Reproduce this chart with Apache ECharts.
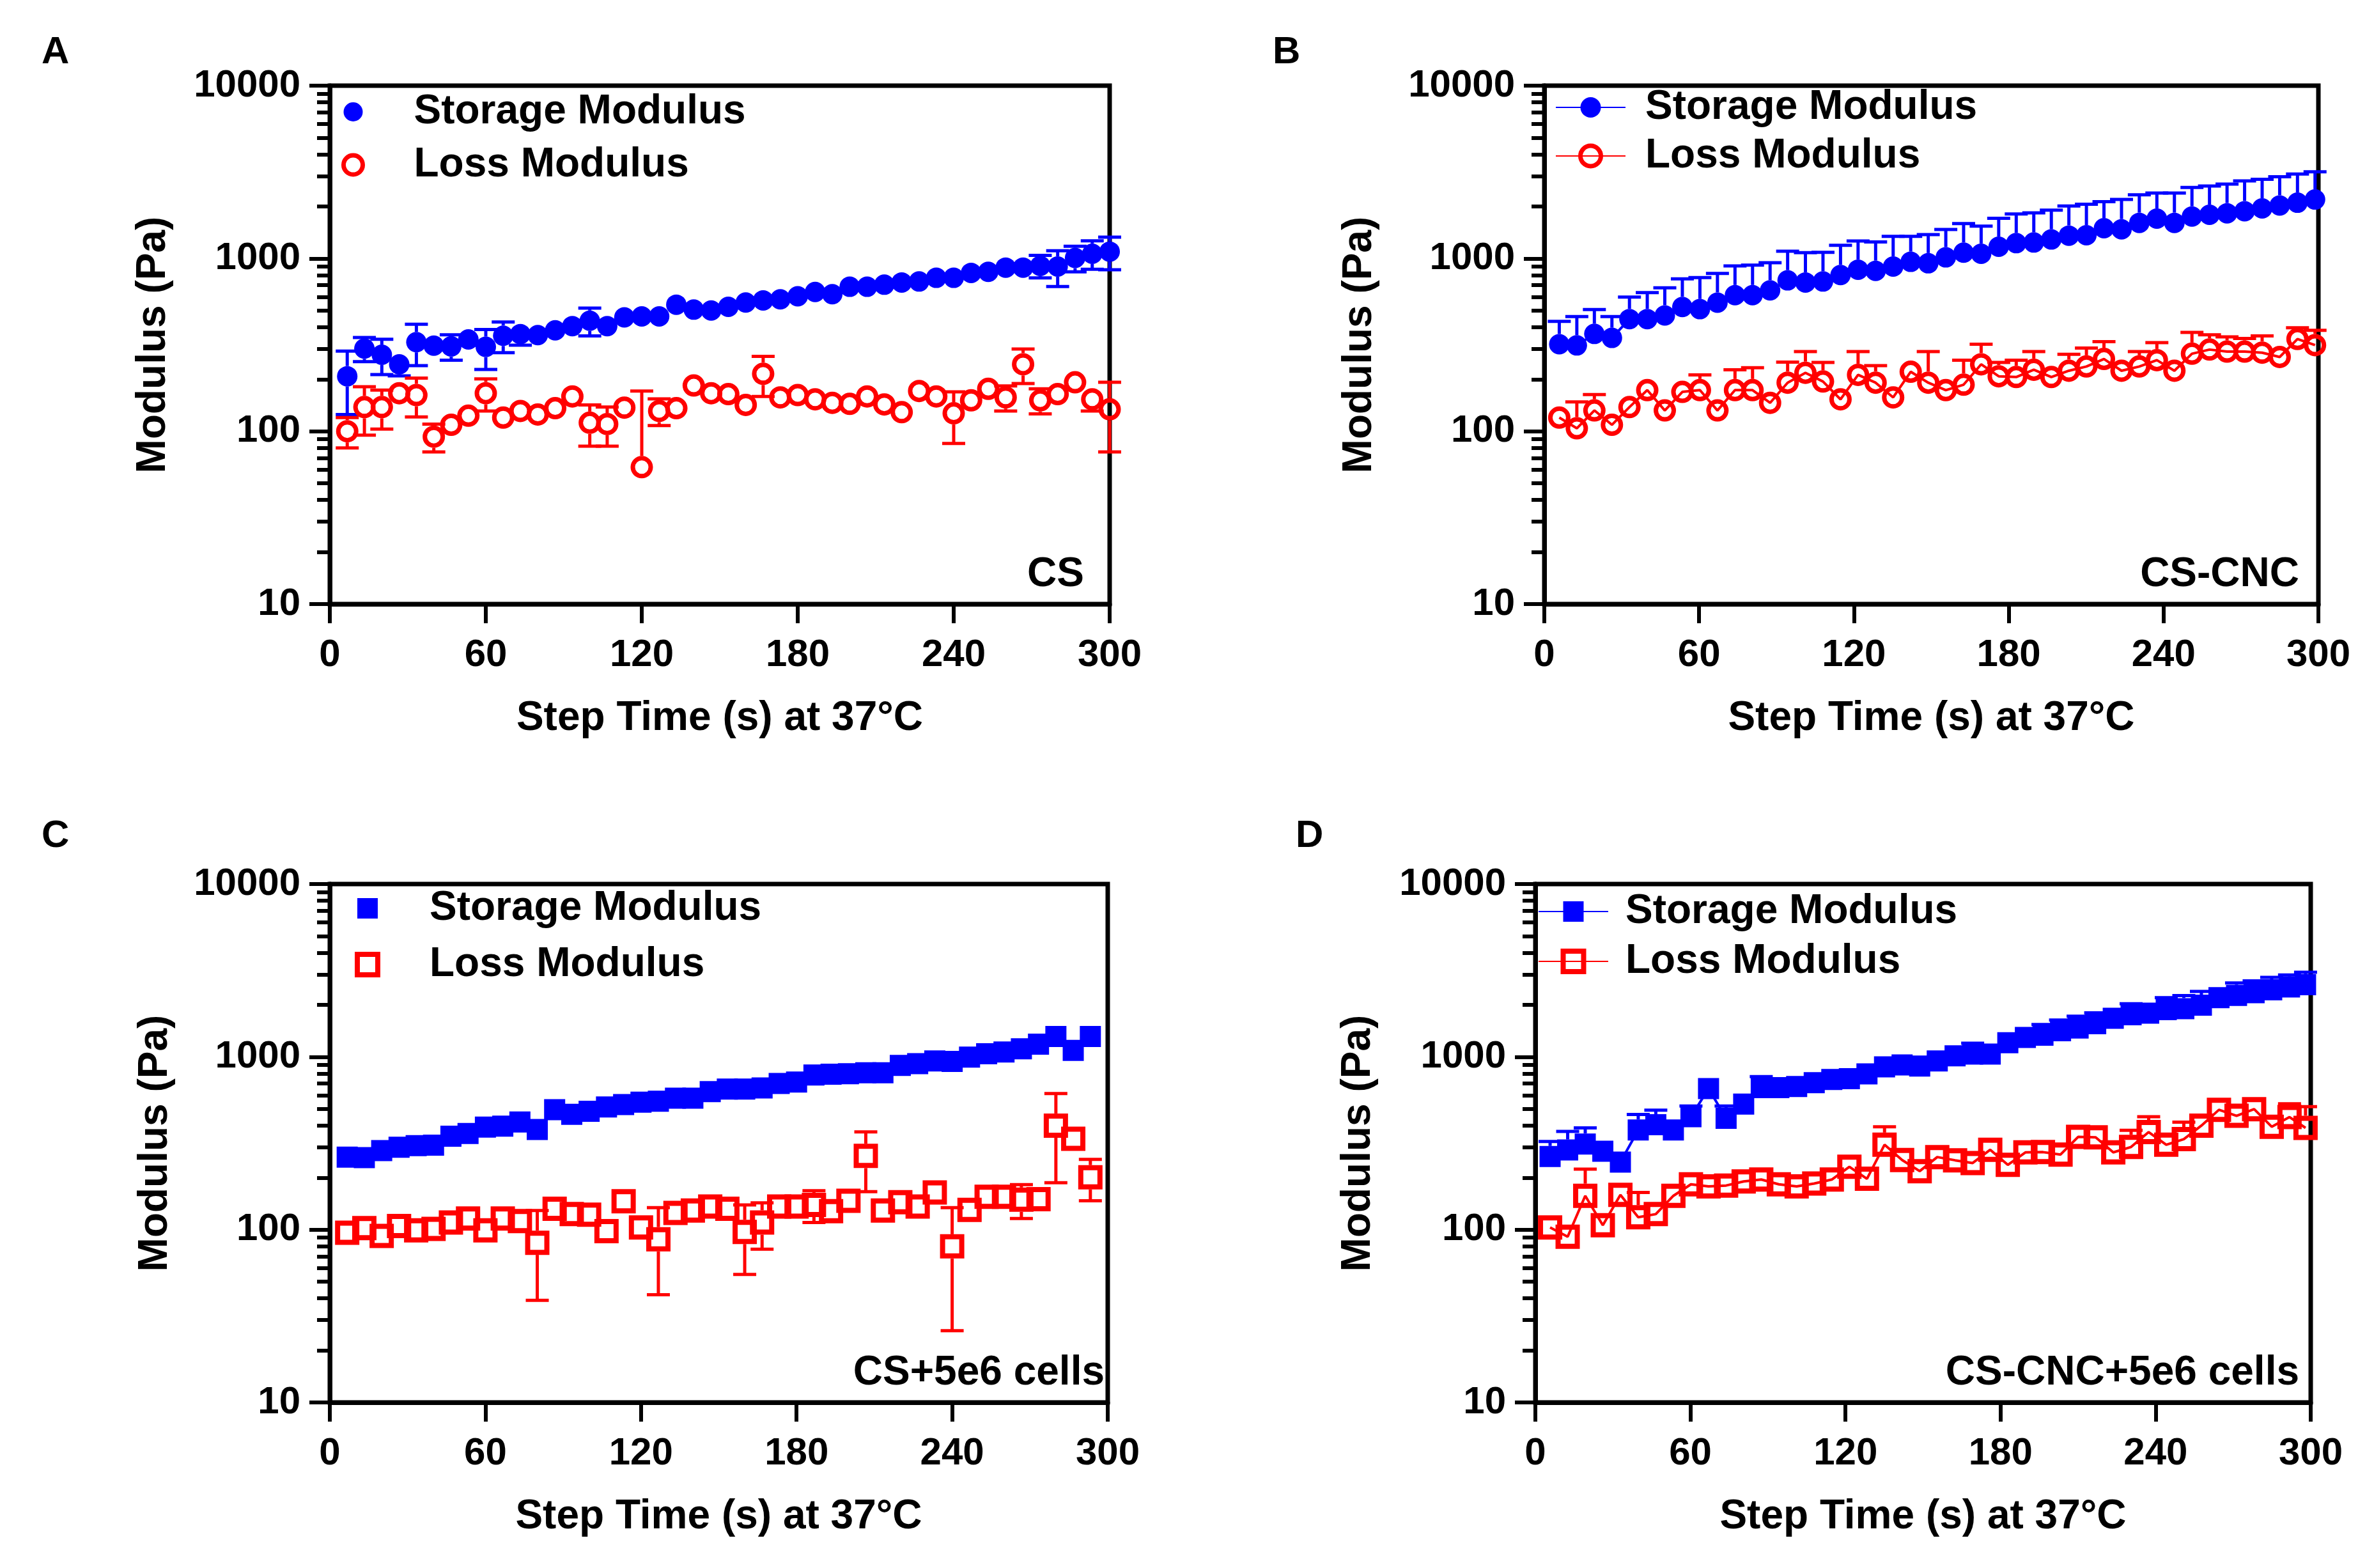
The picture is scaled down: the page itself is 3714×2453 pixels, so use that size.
<!DOCTYPE html>
<html><head><meta charset="utf-8">
<script src="https://cdn.jsdelivr.net/npm/echarts@6/dist/echarts.min.js"></script>
<style>html,body{margin:0;padding:0;background:#fff}#c{width:3714px;height:2453px}</style>
</head><body><div id="c"></div>
<script>
const xTicks = [0, 60, 120, 180, 240, 300];
const yTicks = [10, 100, 1000, 10000];
const yMinorTicks = [20,30,40,50,60,70,80,90,200,300,400,500,600,700,800,900,2000,3000,4000,5000,6000,7000,8000,9000];
const panelLabels = ['A', 'B', 'C', 'D'];
const sampleNames = ['CS', 'CS-CNC', 'CS+5e6 cells', 'CS-CNC+5e6 cells'];
const seriesNames = ['Storage Modulus', 'Loss Modulus'];
const xTitle = 'Step Time (s) at 37°C';
const yTitle = 'Modulus (Pa)';

const timeA = [6.7,13.3,20,26.7,33.3,40,46.7,53.3,60,66.7,73.3,80,86.7,93.3,100,106.7,113.3,120,126.7,133.3,140,146.7,153.3,160,166.7,173.3,180,186.7,193.3,200,206.7,213.3,220,226.7,233.3,240,246.7,253.3,260,266.7,273.3,280,286.7,293.3,300];
const timeB = [5.8,12.6,19.4,26.2,33.0,39.9,46.7,53.5,60.3,67.1,73.9,80.7,87.5,94.3,101.2,108.0,114.8,121.6,128.4,135.2,142.0,148.8,155.6,162.5,169.3,176.1,182.9,189.7,196.5,203.3,210.1,216.9,223.7,230.6,237.4,244.2,251.0,257.8,264.6,271.4,278.2,285.0,291.9,298.7];
const timeC = [6.7,13.3,20,26.7,33.3,40,46.7,53.3,60,66.7,73.3,80,86.7,93.3,100,106.7,113.3,120,126.7,133.3,140,146.7,153.3,160,166.7,173.3,180,186.7,193.3,200,206.7,213.3,220,226.7,233.3,240,246.7,253.3,260,266.7,273.3,280,286.7,293.3];
const timeD = [5.7,12.5,19.3,26.1,32.9,39.8,46.6,53.4,60.2,67.0,73.8,80.6,87.4,94.2,101.1,107.9,114.7,121.5,128.3,135.1,141.9,148.7,155.5,162.4,169.2,176.0,182.8,189.6,196.4,203.2,210.0,216.8,223.6,230.5,237.3,244.1,250.9,257.7,264.5,271.3,278.1,284.9,291.8,298.0];

const storageA = [208,301,277,244,328,313,310,340,308,357,365,360,384,406,436,406,456,462,462,540,506,500,525,556,572,580,604,640,621,686,686,705,726,736,773,773,825,837,885,885,906,898,1007,1065,1095];
const storageSdA = [83,48,64,35,88,0,52,0,80,72,50,45,45,0,80,0,0,0,0,0,0,0,0,0,0,0,0,0,0,0,0,0,0,0,0,0,0,0,30,40,135,210,170,200,234];
const lossA = [100,138,138,166,162,93,109,123,166,120,131,125,136,159,112,110,137,62,131,136,184,166,164,142,215,157,162,153,146,144,159,143,129,171,159,127,151,176,157,244,151,164,192,153,134];
const lossSdA = [20,43,35,0,41,17,0,0,35,0,0,0,0,0,30,28,0,109,23,0,25,0,0,0,56,0,0,0,0,0,0,0,0,0,0,42,0,0,26,55,25,12,0,22,58];

const storageB = [319,314,366,347,446,446,468,524,509,555,613,613,654,747,726,736,802,861,848,898,956,938,1015,1080,1065,1169,1227,1237,1288,1355,1362,1496,1475,1607,1700,1607,1749,1789,1826,1877,1948,2025,2102,2194];
const storageSdB = [113,147,140,114,152,188,208,238,266,265,293,303,291,355,354,350,390,401,397,445,387,436,455,512,474,540,582,599,617,659,699,637,719,728,689,782,829,835,866,931,923,946,981,977];
const lossB = [120,104,132,109,138,173,132,169,173,132,173,173,146,191,218,194,153,212,191,157,221,191,173,186,244,208,206,227,206,224,237,262,224,237,258,224,281,297,289,289,285,269,342,315];
const lossSdB = [10,44,31,0,0,24,0,0,39,0,54,60,0,60,71,56,0,77,49,0,0,98,0,72,75,42,52,62,0,55,66,68,0,52,68,0,92,65,63,55,71,0,55,69];

const storageC = [263,261,287,300,306,308,347,360,392,397,420,380,495,465,484,513,529,547,554,576,576,629,651,651,660,701,715,785,794,799,808,808,892,913,947,940,997,1041,1067,1114,1183,1311,1089,1311];
const storageSdC = [0,0,0,0,0,0,0,0,0,0,0,0,0,0,0,0,0,0,0,0,0,0,0,0,0,0,0,0,0,0,0,0,0,0,0,0,0,0,0,0,0,0,0,0];
const lossC = [96,102,92,105,99,101,110,116,99,116,112,84,132,123,122,98,146,103,88,125,129,136,132,97,110,136,136,139,128,147,267,129,144,136,164,80,130,155,155,149,150,400,336,201];
const lossSdC = [0,0,0,0,0,0,0,0,0,0,0,45,0,0,0,0,0,0,46,0,0,0,0,42,33,0,0,29,0,0,101,0,0,0,0,54,0,0,0,33,0,213,0,54];

const storageD = [265,289,313,284,246,377,405,377,450,655,441,533,664,663,674,709,740,748,796,875,897,884,947,1014,1038,1038,1207,1295,1333,1415,1468,1554,1673,1751,1791,1875,1901,1989,2202,2267,2352,2442,2535,2616];
const storageSdD = [59,81,75,0,0,87,86,0,69,0,78,78,104,0,0,0,0,0,0,0,0,0,0,0,162,0,0,0,204,217,250,242,0,280,0,325,360,400,0,410,400,440,445,470];
const lossD = [103,91,157,106,159,118,123,157,183,178,180,190,195,183,178,185,195,231,197,310,253,218,263,252,243,290,237,280,281,272,344,342,280,301,367,310,334,400,494,456,498,394,448,388];
const lossSdD = [0,0,67,0,0,46,0,0,0,0,0,0,0,0,0,0,0,0,0,84,0,0,0,0,0,0,0,0,0,30,0,0,0,75,83,0,85,0,0,0,0,0,87,127];

const F = 'Liberation Sans, Arial, Helvetica, sans-serif';
const BLUE = '#0000ff', RED = '#ff0000';

const panels = [
  {time: timeA, s: storageA, sSd: storageSdA, l: lossA, lSd: lossSdA, line: false, sym: 'circle', twoSided: true,
   grid: {left: 516, top: 134, width: 1220, height: 811}, yGap: 244,
   legend: {left: 534, top: 143, gap: 19, w: 30, h: 30, pad: 75}, letter: {left: 65, top: 52}, note: {right: 2018, top: 867}},
  {time: timeB, s: storageB, sSd: storageSdB, l: lossB, lSd: lossSdB, line: true, sym: 'circle', twoSided: false,
   grid: {left: 2416, top: 134, width: 1211, height: 811}, yGap: 257,
   legend: {left: 2433, top: 136, gap: 12, w: 109, h: 40, pad: 26}, letter: {left: 1991, top: 52}, note: {right: 117, top: 867}},
  {time: timeC, s: storageC, sSd: storageSdC, l: lossC, lSd: lossSdC, line: false, sym: 'rect', twoSided: true,
   grid: {left: 516, top: 1383, width: 1217, height: 811}, yGap: 241,
   legend: {left: 555, top: 1389, gap: 24, w: 32, h: 32, pad: 76}, letter: {left: 65, top: 1278}, note: {right: 1986, top: 2116}},
  {time: timeD, s: storageD, sSd: storageSdD, l: lossD, lSd: lossSdD, line: true, sym: 'rect', twoSided: false,
   grid: {left: 2402, top: 1383, width: 1213, height: 811}, yGap: 245,
   legend: {left: 2406, top: 1394, gap: 14, w: 109, h: 40, pad: 22}, letter: {left: 2027, top: 1278}, note: {right: 117, top: 2116}}
];

function errorSeries(name, g, times, vals, sds, color, twoSided, r, capW) {
  return {
    type: 'custom', name: name, xAxisIndex: g, yAxisIndex: 2 * g, z: 1, silent: true,
    encode: {x: 0, y: 1},
    data: times.map((t, i) => [t, vals[i], sds[i]]),
    renderItem: function (params, api) {
      const t = api.value(0), v = api.value(1), sd = api.value(2);
      if (!(sd > 0)) return null;
      const c = api.coord([t, v]);
      const st = {stroke: color, lineWidth: 5};
      const kids = [];
      const up = api.coord([t, v + sd]);
      if (c[1] - up[1] > r) {
        kids.push({type: 'line', shape: {x1: c[0], y1: c[1] - r, x2: c[0], y2: up[1]}, style: st});
        kids.push({type: 'line', shape: {x1: c[0] - capW / 2, y1: up[1], x2: c[0] + capW / 2, y2: up[1]}, style: st});
      }
      if (twoSided && v - sd > 0) {
        const dn = api.coord([t, v - sd]);
        if (dn[1] - c[1] > r) {
          kids.push({type: 'line', shape: {x1: c[0], y1: c[1] + r, x2: c[0], y2: dn[1]}, style: st});
          kids.push({type: 'line', shape: {x1: c[0] - capW / 2, y1: dn[1], x2: c[0] + capW / 2, y2: dn[1]}, style: st});
        }
      }
      return {type: 'group', children: kids};
    }
  };
}

const grids = [], xAxes = [], yAxes = [], series = [], legends = [], titles = [];
panels.forEach((p, g) => {
  const L = panelLabels[g];
  grids.push(Object.assign({show: true, borderColor: '#000', borderWidth: 7, backgroundColor: 'transparent'}, p.grid));
  xAxes.push({
    gridIndex: g, type: 'value', min: xTicks[0], max: xTicks[xTicks.length - 1], interval: xTicks[1] - xTicks[0],
    name: xTitle, nameLocation: 'middle', nameGap: 147,
    nameTextStyle: {fontSize: 64, fontWeight: 'bold', fontFamily: F, color: '#000'},
    axisLine: {show: true, onZero: false, lineStyle: {color: '#000', width: 7}},
    axisTick: {show: true, length: 30, lineStyle: {color: '#000', width: 6}},
    axisLabel: {fontSize: 60, fontWeight: 'bold', fontFamily: F, color: '#000', margin: 50},
    splitLine: {show: false}
  });
  yAxes.push({
    gridIndex: g, type: 'log', logBase: 10, min: yTicks[0], max: yTicks[yTicks.length - 1],
    name: yTitle, nameLocation: 'middle', nameGap: p.yGap,
    nameTextStyle: {fontSize: 64, fontWeight: 'bold', fontFamily: F, color: '#000'},
    axisLine: {show: true, lineStyle: {color: '#000', width: 7}},
    axisTick: {show: true, length: 32, lineStyle: {color: '#000', width: 6}},
    axisLabel: {fontSize: 60, fontWeight: 'bold', fontFamily: F, color: '#000', margin: 46, formatter: v => String(Math.round(v))},
    splitLine: {show: false}
  });
  yAxes.push({
    gridIndex: g, type: 'log', logBase: 10, min: yTicks[0], max: yTicks[yTicks.length - 1], position: 'left',
    axisLine: {show: false}, axisLabel: {show: false}, splitLine: {show: false},
    axisTick: {show: true, length: 20, lineStyle: {color: '#000', width: 6}, customValues: yMinorTicks}
  });
  const sName = L + ' ' + seriesNames[0], lName = L + ' ' + seriesNames[1];
  const isRect = p.sym === 'rect';
  const sSize = isRect ? 33 : 32, lSize = isRect ? 30 : 28, lBorder = isRect ? 8 : 7;
  const sStyle = {color: BLUE, opacity: 1};
  const lStyle = {color: 'transparent', borderColor: RED, borderWidth: lBorder, opacity: 1};
  series.push(errorSeries(sName + ' SD', g, p.time, p.s, p.sSd, BLUE, p.twoSided, sSize / 2, 36));
  series.push(errorSeries(lName + ' SD', g, p.time, p.l, p.lSd, RED, p.twoSided, (lSize + lBorder) / 2, 36));
  const common = {xAxisIndex: g, yAxisIndex: 2 * g, z: 3, silent: true};
  if (p.line) {
    series.push(Object.assign({type: 'line', name: sName, data: p.time.map((t, i) => [t, p.s[i]]), symbol: p.sym, symbolSize: sSize,
      showSymbol: true, showAllSymbol: true, itemStyle: sStyle, lineStyle: {color: BLUE, width: 4}}, common));
    series.push(Object.assign({type: 'line', name: lName, data: p.time.map((t, i) => [t, p.l[i]]), symbol: p.sym, symbolSize: lSize,
      showSymbol: true, showAllSymbol: true, itemStyle: lStyle, lineStyle: {color: RED, width: 4}}, common));
  } else {
    series.push(Object.assign({type: 'scatter', name: sName, data: p.time.map((t, i) => [t, p.s[i]]), symbol: p.sym, symbolSize: sSize,
      itemStyle: sStyle}, common));
    series.push(Object.assign({type: 'scatter', name: lName, data: p.time.map((t, i) => [t, p.l[i]]), symbol: p.sym, symbolSize: lSize,
      itemStyle: lStyle}, common));
  }
  legends.push({
    orient: 'vertical', left: p.legend.left, top: p.legend.top, itemGap: p.legend.gap, padding: 0,
    itemWidth: p.legend.w, itemHeight: p.legend.h, selectedMode: false,
    data: [
      {name: sName, itemStyle: {color: BLUE, borderWidth: 0, opacity: 1}},
      {name: lName, itemStyle: {color: 'transparent', borderColor: RED, borderWidth: lBorder, opacity: 1}}
    ],
    formatter: n => n.slice(2),
    textStyle: {fontSize: 64, fontWeight: 'bold', fontFamily: F, color: '#000', padding: [0, 0, 0, p.legend.pad]}
  });
  titles.push({text: L, left: p.letter.left, top: p.letter.top, padding: 0,
    textStyle: {fontSize: 60, fontWeight: 'bold', fontFamily: F, color: '#000'}});
  titles.push({text: sampleNames[g], right: p.note.right, top: p.note.top, padding: 0,
    textStyle: {fontSize: 64, fontWeight: 'bold', fontFamily: F, color: '#000'}});
});

const chart = echarts.init(document.getElementById('c'), null, {renderer: 'canvas'});
chart.setOption({
  animation: false,
  backgroundColor: '#fff',
  textStyle: {fontFamily: F},
  title: titles,
  legend: legends,
  grid: grids,
  xAxis: xAxes,
  yAxis: yAxes,
  series: series
});
</script>
</body></html>
